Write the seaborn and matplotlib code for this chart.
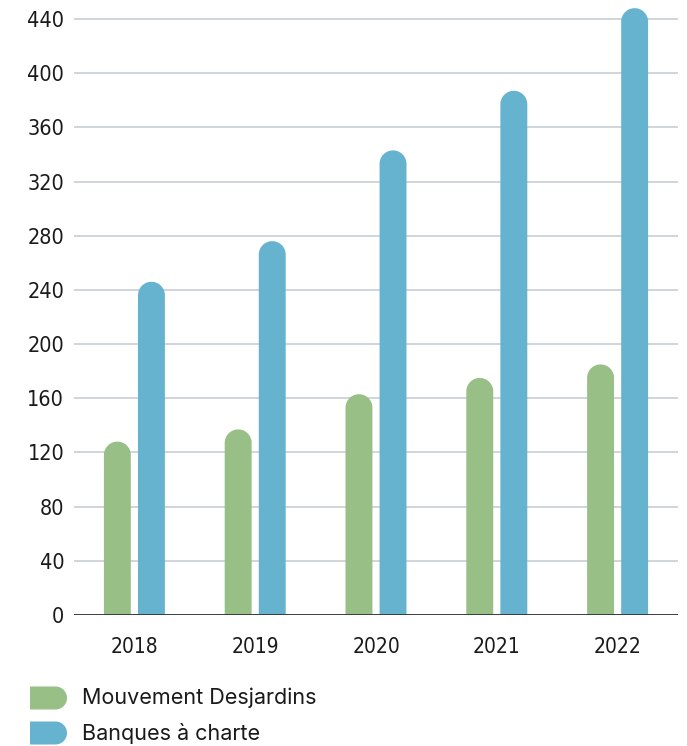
import numpy as np
import pandas as pd
import seaborn as sns
import matplotlib.pyplot as plt
from matplotlib.patches import Polygon
from matplotlib.transforms import IdentityTransform

# Data
years = ["2018", "2019", "2020", "2021", "2022"]
desjardins = [128, 137, 163, 175, 185]
banques = [246, 276, 343, 387, 448]
series_names = ["Mouvement Desjardins", "Banques à charte"]
colors = ["#97bf86", "#66b3cf"]
yticks = list(range(0, 441, 40))

df = pd.DataFrame({
    "year": years * 2,
    "value": desjardins + banques,
    "series": [series_names[0]] * len(years) + [series_names[1]] * len(years),
})

W, H = 687, 746
DPI = 100
sns.set_style("white")
tick_font = dict(family="DejaVu Sans", stretch="condensed")
legend_font = ["Inter", "DejaVu Sans"]

fig = plt.figure(figsize=(W / DPI, H / DPI), dpi=DPI)
ymax = 450
ax_left, ax_right, ax_bottom_px = 74, 678, 615
px_per_unit_y = 596 / 440
ax_h = ymax * px_per_unit_y
ax = fig.add_axes([ax_left / W, 1 - ax_bottom_px / H, (ax_right - ax_left) / W, ax_h / H])

sns.barplot(data=df, x="year", y="value", hue="series", palette=colors,
            width=0.564, gap=0.21, ax=ax, legend=False, saturation=1)

ax.set_xlim(-0.5, len(years) - 0.5)
ax.set_ylim(0, ymax)
ax.set_yticks(yticks)
ax.set_yticklabels([str(t) for t in yticks], fontsize=15.5, color="#1a1a1a", **tick_font)
ax.set_xticks(range(len(years)))
ax.set_xticklabels(years, fontsize=15, color="#1a1a1a", **tick_font)
ax.tick_params(axis="y", length=0, pad=7)
ax.tick_params(axis="x", length=0, pad=16)
ax.set_xlabel("")
ax.set_ylabel("")
for s in ax.spines.values():
    s.set_visible(False)
ax.grid(axis="y", color="#c3cad3", linewidth=1.1)
ax.grid(axis="x", visible=False)
ax.set_axisbelow(True)
ax.axhline(0, color="#333333", linewidth=1.3, zorder=3)

# rounded tops: swap each rectangle for a pill-topped polygon
px_per_unit_x = (ax_right - ax_left) / len(years)
for p in list(ax.patches):
    x0, w, h = p.get_x(), p.get_width(), p.get_height()
    fc = p.get_facecolor()
    rx = w / 2
    ry = rx * px_per_unit_x / px_per_unit_y
    cx = x0 + rx
    t = np.linspace(np.pi, 0, 40)
    arc = np.column_stack([cx + rx * np.cos(t), h - ry + ry * np.sin(t)])
    pts = np.vstack([[x0, 0], arc, [x0 + w, 0]])
    ax.add_patch(Polygon(pts, closed=True, facecolor=fc, edgecolor="none", zorder=2))
    p.remove()

# legend drawn by hand with D-shaped swatches (pixel coords)
def swatch(x0, yc, w, h, color):
    r = h / 2
    t = np.linspace(np.pi / 2, -np.pi / 2, 30)
    arc = np.column_stack([x0 + w - r + r * np.cos(t), yc + r * np.sin(t)])
    pts = np.vstack([[x0, yc + r], arc, [x0, yc - r]])
    fig.patches.append(Polygon(pts, closed=True, facecolor=color, edgecolor="none",
                               transform=IdentityTransform(), figure=fig))

leg_y = [698, 733]
for name, col, yc in zip(series_names, colors, leg_y):
    swatch(30, H - yc, 37, 23, col)
    fig.text(82 / W, 1 - yc / H, name, fontsize=15.5, family=legend_font,
             color="#1a1a1a", va="center", ha="left")

plt.savefig("out.png", dpi=DPI)
